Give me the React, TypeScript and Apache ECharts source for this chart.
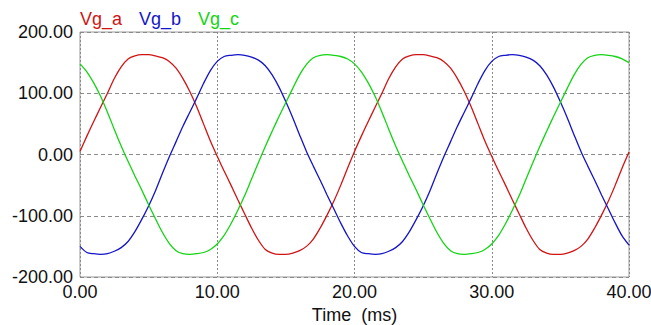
import React, { useEffect, useRef } from "react";
import * as echarts from "echarts";

const timeMs = [
  0, 0.5, 1, 1.5, 2, 2.5, 3, 3.5, 4, 4.5, 5, 5.5, 6, 6.5, 7, 7.5, 8, 8.5, 9, 9.5,
  10, 10.5, 11, 11.5, 12, 12.5, 13, 13.5, 14, 14.5, 15, 15.5, 16, 16.5, 17, 17.5, 18, 18.5, 19, 19.5,
  20, 20.5, 21, 21.5, 22, 22.5, 23, 23.5, 24, 24.5, 25, 25.5, 26, 26.5, 27, 27.5, 28, 28.5, 29, 29.5,
  30, 30.5, 31, 31.5, 32, 32.5, 33, 33.5, 34, 34.5, 35, 35.5, 36, 36.5, 37, 37.5, 38, 38.5, 39, 39.5,
  40,
];

const vgA = [
  5, 30, 54, 77, 100, 124, 143, 156, 161, 163, 163, 161, 158, 152, 141, 124, 103, 78, 50, 22,
  -3, -27, -50, -74, -97, -120, -140, -155, -161, -163, -163, -161, -157, -150, -138, -120, -99, -76, -50, -22,
  5, 30, 54, 77, 100, 124, 143, 156, 161, 163, 163, 161, 158, 152, 141, 124, 103, 78, 50, 22,
  -3, -27, -50, -74, -97, -120, -140, -155, -161, -163, -163, -161, -157, -150, -138, -120, -99, -76, -50, -22,
  4,
];

const vgB = [
  -150, -160, -162, -163, -162, -158, -152, -142, -126, -106, -84, -59, -31, -4, 21, 46, 69, 92, 116, 137,
  152, 160, 162, 163, 162, 159, 154, 145, 130, 110, 86, 60, 32, 5, -19, -42, -66, -89, -112, -133,
  -150, -160, -162, -163, -162, -158, -152, -142, -126, -106, -84, -59, -31, -4, 21, 46, 69, 92, 116, 137,
  152, 160, 162, 163, 162, 159, 154, 145, 130, 110, 86, 60, 32, 5, -19, -42, -66, -89, -112, -133,
  -148,
];

const vgC = [
  148, 135, 117, 95, 69, 41, 14, -11, -35, -58, -82, -105, -127, -145, -157, -162, -163, -162, -160, -155,
  -146, -132, -113, -91, -67, -40, -13, 13, 38, 62, 85, 108, 130, 147, 158, 162, 163, 162, 160, 156,
  148, 135, 117, 95, 69, 41, 14, -11, -35, -58, -82, -105, -127, -145, -157, -162, -163, -162, -160, -155,
  -146, -132, -113, -91, -67, -40, -13, 13, 38, 62, 85, 108, 130, 147, 158, 162, 163, 162, 160, 156,
  150,
];

const seriesNames = ["Vg_a", "Vg_b", "Vg_c"];
const seriesColors = ["#d01414", "#1414c8", "#14d414"];
const xTicks = { min: 0, max: 40, interval: 10 };
const yTicks = { min: -200, max: 200, interval: 100 };
const xAxisTitle = "Time  (ms)";

const FONT = '"Liberation Sans", Arial, Helvetica, sans-serif';
const FS = 18;

export default function App() {
  const ref = useRef<HTMLDivElement>(null);
  useEffect(() => {
    if (!ref.current) return;
    const chart = echarts.init(ref.current, null, { renderer: "svg" });
    const allValues = [vgA, vgB, vgC];
    chart.setOption({
      animation: false,
      backgroundColor: "#ffffff",
      textStyle: { fontFamily: FONT },
      grid: {
        left: 80,
        right: 22,
        top: 32,
        bottom: 48,
        containLabel: false,
        outerBoundsMode: "none",
        show: true,
        borderColor: "#9a9a9a",
        borderWidth: 1,
        backgroundColor: "transparent",
      },
      legend: {
        left: 75,
        top: 10,
        padding: 0,
        icon: "none",
        itemWidth: 0,
        itemGap: 12,
        selectedMode: false,
        textStyle: { fontSize: FS, fontFamily: FONT },
        data: seriesNames.map((n, i) => ({ name: n, textStyle: { color: seriesColors[i] } })),
      },
      xAxis: {
        type: "value",
        min: xTicks.min,
        max: xTicks.max,
        interval: xTicks.interval,
        axisLine: { show: false },
        axisTick: { show: false },
        axisLabel: {
          formatter: (v: number) => v.toFixed(2),
          fontSize: FS,
          color: "#111",
          margin: 6,
          fontFamily: FONT,
        },
        splitLine: { show: true, lineStyle: { color: "#8a8a8a", type: [2, 2], width: 1 } },
        name: xAxisTitle,
        nameLocation: "middle",
        nameGap: 22,
        nameTextStyle: { fontSize: FS, color: "#111", fontFamily: FONT },
      },
      yAxis: {
        type: "value",
        min: yTicks.min,
        max: yTicks.max,
        interval: yTicks.interval,
        axisLine: { show: false },
        axisTick: { show: false },
        axisLabel: {
          formatter: (v: number) => v.toFixed(2),
          fontSize: FS,
          color: "#111",
          margin: 7,
          fontFamily: FONT,
        },
        splitLine: { show: true, lineStyle: { color: "#8a8a8a", type: [4, 3], width: 1 } },
      },
      series: seriesNames.map((n, i) => ({
        name: n,
        type: "line",
        data: timeMs.map((t, k) => [t, allValues[i][k]]),
        showSymbol: false,
        smooth: 0.3,
        color: seriesColors[i],
        lineStyle: { width: 1.3, color: seriesColors[i] },
      })),
    });
    return () => chart.dispose();
  }, []);
  return (
    <div
      ref={ref}
      style={{ position: "fixed", left: 0, top: 0, width: 651, height: 325 }}
    />
  );
}
